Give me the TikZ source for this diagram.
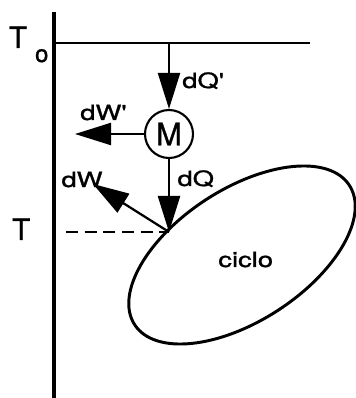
\documentclass[tikz,border=0pt]{standalone}
\usepackage{fontspec}
\usepackage{graphicx}
\setmainfont{TeX Gyre Heros}
\newfontfamily\lblfont[FakeBold=1.0]{TeX Gyre Heros}
\usetikzlibrary{arrows.meta}
\newcommand{\wide}[1]{\scalebox{1.3}[1]{#1}}

\begin{document}
\begin{tikzpicture}[
        flow/.style={line width=1.6pt,-{Triangle[length=0.9cm,width=0.55cm]}},
        lbl/.style={anchor=base west,inner sep=0,font=\lblfont\fontsize{15}{16}\selectfont},
        big/.style={anchor=base west,inner sep=0,font=\lblfont\fontsize{21}{23}\selectfont}]
        \useasboundingbox (0,0) rectangle (8.9,9.95);

        % --- AXIS AND RESERVOIR ---
        \coordinate (axbot) at (1.35,0);
        \coordinate (axtop) at (1.35,9.65);
        \coordinate (res0) at (1.35,8.875);
        \coordinate (res1) at (7.75,8.875);
        \coordinate (src) at (4.225,8.875);
        \draw[line width=2.5pt] (axbot) -- (axtop);
        \draw[line width=2pt] (res0) -- (res1);

        \node[big] (To) at (0.22,8.75) {T\hspace{0.2cm}\raisebox{-0.35cm}{\fontsize{17}{19}\selectfont o}};
        \node[big] (T) at (0.3,3.95) {T};

        % --- MACHINE ---
        \node[draw,circle,line width=1.5pt,minimum size=1.2cm,inner sep=0,font=\lblfont\fontsize{22}{24}\selectfont] (M) at (4.225,6.6) {M};

        \coordinate (P) at (4.225,4.15);
        \coordinate (wout) at (1.875,6.6);
        \coordinate (wcyc) at (2.325,5.35);
        \coordinate (Tlev) at (1.65,4.15);

        \draw[flow] (src) -- (M.north);
        \draw[flow] (M.west) -- (wout);
        \draw[flow] (M.south) -- (P);
        \draw[flow] (P) -- (wcyc);
        \draw[line width=1.6pt,dash pattern=on 8.5pt off 4.8pt] (Tlev) -- (P);

        \node[lbl] (lQp) at (4.55,7.75) {\wide{dQ'}};
        \node[lbl] (lWp) at (2.0,6.95) {\wide{dW'}};
        \node[lbl] (lQ) at (4.43,5.3) {\wide{dQ}};
        \node[lbl] (lW) at (1.53,5.275) {\wide{dW}};

        % --- CYCLE ---
        \draw[line width=2.1pt,rotate around={33:(6.05,3.575)}] (6.05,3.575) ellipse (3.2cm and 1.65cm);
        \node[lbl] (cyc) at (5.45,3.275) {\wide{ciclo}};
\end{tikzpicture}
\end{document}
